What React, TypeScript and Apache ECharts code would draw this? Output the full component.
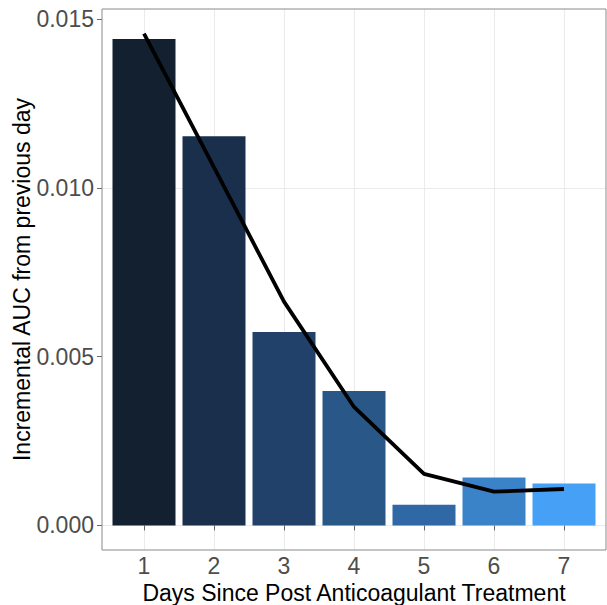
import React, { useEffect, useRef } from "react";
import * as echarts from "echarts";

const days = [1, 2, 3, 4, 5, 6, 7];
const barValues = [0.01441, 0.01153, 0.00573, 0.00398, 0.00061, 0.00142, 0.00124];
const lineValues = [0.01457, 0.01061, 0.00663, 0.00351, 0.00153, 0.001, 0.00108];
const barColors = ["#12202F", "#1A2F4C", "#21416A", "#295888", "#2F68A4", "#3B83C9", "#46A0F5"];
const yMajorTicks = [0, 0.005, 0.01, 0.015];
const yMinorTicks = [0.0025, 0.0075, 0.0125];
const xTitle = "Days Since Post Anticoagulant Treatment";
const yTitle = "Incremental AUC from previous day";

export default function App() {
  const ref = useRef<HTMLDivElement>(null);
  useEffect(() => {
    document.body.style.margin = "0";
    const chart = echarts.init(ref.current!, null, { renderer: "svg" });
    const font = "Liberation Sans, Arial, Helvetica, sans-serif";
    const gridMarks = [
      ...yMajorTicks.map((v) => ({ yAxis: v, lineStyle: { width: 1.1 } })),
      ...yMinorTicks.map((v) => ({ yAxis: v, lineStyle: { width: 0.55 } })),
      ...days.map((d) => ({ xAxis: d, lineStyle: { width: 1.1 } })),
    ];
    chart.setOption({
      animation: false,
      backgroundColor: "#FFFFFF",
      grid: {
        left: 102,
        right: 1,
        top: 9,
        bottom: 55,
        containLabel: false,
        outerBoundsMode: "none",
        show: true,
        borderColor: "#8A8A8A",
        borderWidth: 1,
        backgroundColor: "transparent",
        z: 4,
      },
      xAxis: {
        type: "value",
        min: 0.4,
        max: 7.6,
        name: xTitle,
        nameLocation: "middle",
        nameGap: 31,
        nameMoveOverlap: false,
        nameTextStyle: { fontSize: 23, color: "#000000", fontFamily: font },
        axisLine: { show: false },
        axisTick: { show: true, length: 5, customValues: days, lineStyle: { color: "#666666", width: 1 } },
        axisLabel: { customValues: days, fontSize: 23, color: "#4D4D4D", margin: 4, fontFamily: font, formatter: (v: number) => String(v) },
        splitLine: { show: false },
      },
      yAxis: {
        type: "value",
        min: -0.000727,
        max: 0.0153,
        name: yTitle,
        nameLocation: "middle",
        nameGap: 69,
        nameMoveOverlap: false,
        nameTextStyle: { fontSize: 23, color: "#000000", fontFamily: font },
        axisLine: { show: false },
        axisTick: { show: true, length: 5, customValues: yMajorTicks, lineStyle: { color: "#666666", width: 1 } },
        axisLabel: { customValues: yMajorTicks, fontSize: 23, color: "#4D4D4D", margin: 8, fontFamily: font, formatter: (v: number) => v.toFixed(3) },
        splitLine: { show: false },
      },
      series: [
        {
          type: "line",
          data: [],
          z: 0,
          silent: true,
          markLine: {
            silent: true,
            z: 0,
            symbol: ["none", "none"],
            label: { show: false },
            lineStyle: { color: "#EBEBEB", type: "solid" },
            data: gridMarks,
          },
        },
        {
          type: "bar",
          z: 2,
          barWidth: "90%",
          data: days.map((d, i) => ({ value: [d, barValues[i]], itemStyle: { color: barColors[i] } })),
        },
        {
          type: "line",
          z: 3,
          symbol: "none",
          lineStyle: { color: "#000000", width: 3.8 },
          data: days.map((d, i) => [d, lineValues[i]]),
        },
      ],
    });
    return () => chart.dispose();
  }, []);
  return <div ref={ref} style={{ position: "fixed", left: 0, top: 0, width: 607, height: 605 }} />;
}
